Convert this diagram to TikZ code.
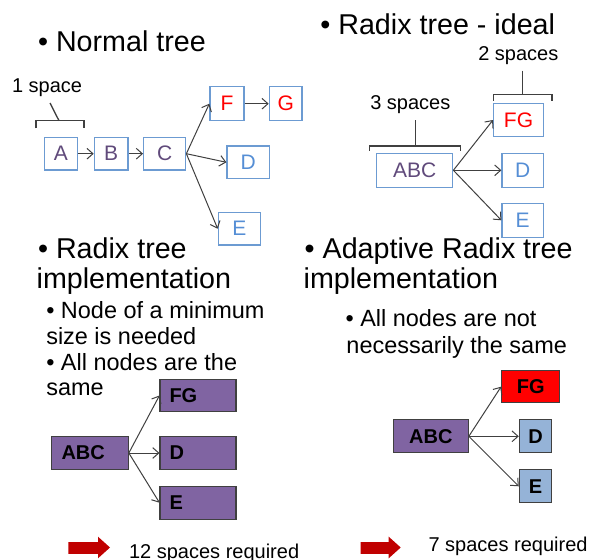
\documentclass[tikz,border=0pt]{standalone}
\usepackage{fontspec}
\setmainfont{Liberation Sans}
\usetikzlibrary{arrows.meta}
\definecolor{boxblue}{RGB}{108,155,210}
\definecolor{keypurple}{RGB}{96,74,123}
\definecolor{keyblue}{RGB}{85,142,213}
\definecolor{purplefill}{RGB}{128,100,162}
\definecolor{lightfill}{RGB}{149,179,215}
\definecolor{darkred}{RGB}{192,0,0}
\definecolor{edgegray}{RGB}{64,64,64}
\begin{document}
\begin{tikzpicture}[x=0.75pt,y=-0.75pt,
  head/.style={anchor=base west, inner sep=0pt, font=\fontsize{21.5}{25}\selectfont},
  sub/.style={anchor=base west, inner sep=0pt, font=\fontsize{17.6}{20}\selectfont},
  lab/.style={anchor=base west, inner sep=0pt, font=\fontsize{15}{18}\selectfont},
  sz/.style 2 args={minimum width={#1*0.75pt}, minimum height={#2*0.75pt}},
  tbox/.style={draw=boxblue, line width=1pt, inner sep=0pt, font=\fontsize{15.75}{18}\selectfont},
  pbox/.style={draw=edgegray, fill=purplefill, line width=0.8pt, inner sep=0pt,
               font=\bfseries\fontsize{15}{18}\selectfont},
  lbox/.style={pbox, align=left, inner xsep=7.1pt, text width=42.75pt},
  link/.style={draw=edgegray, line width=0.75pt, -{Straight Barb[length=4.5pt,width=8pt]}},
  brace/.style={draw=edgegray, line width=1pt},
  bigarrow/.style={fill=darkred}]
\useasboundingbox (0,0) rectangle (596,560);

% headings
\node[head] (h1) at (37.8,51.7) {• Normal tree};
\node[head] (h2) at (320.1,35) {• Radix tree - ideal};
\node[head] (h3a) at (37.8,258.3) {• Radix tree};
\node[head] (h3b) at (36.4,288.3) {implementation};
\node[head] (h4a) at (304.4,258.3) {•\ \makebox[187.5pt][s]{Adaptive Radix tree}};
\node[head] (h4b) at (303.4,288.3) {implementation};

% sub-points
\node[sub] (s1) at (46,318.3) {• Node of a minimum};
\node[sub] (s2) at (46,344.3) {size is needed};
\node[sub] (s3) at (46,370) {• All nodes are the};
\node[sub] (s4) at (46,395) {same};
\node[sub] (s5) at (345.3,326.7) {• All nodes are not};
\node[sub] (s6) at (346.2,353.3) {necessarily the same};

% size labels
\node[lab] (l1) at (11.8,92.7) {1 space};
\node[lab] (l3) at (370,109.3) {3 spaces};
\node[lab] (l2) at (478,60.3) {2 spaces};
\draw[brace] (36,128.3) -- (36,120.7) -- (84,120.7) -- (84,128.3);
\draw[brace] (50,103) -- (59,120.7);
\draw[brace] (369.3,150.5) -- (369.3,146) -- (460.7,146) -- (460.7,150.5);
\draw[brace] (415.3,120) -- (415.3,146);
\draw[brace] (493.3,100.7) -- (493.3,94.3) -- (552,94.3) -- (552,100.7);
\draw[brace] (522.7,70.7) -- (522.7,94.3);

% normal tree
\node[tbox, sz={33}{32.7}, text=keypurple] (A) at (60.8,153.7) {A};
\node[tbox, sz={33.7}{32.7}, text=keypurple] (B) at (111.2,153.7) {B};
\node[tbox, sz={42}{32.7}, text=keypurple] (C) at (164.7,153.7) {C};
\node[tbox, sz={34}{34}, text=red] (F) at (227,103.7) {F};
\node[tbox, sz={32.7}{34}, text=red] (G) at (285.7,103.7) {G};
\node[tbox, sz={42.3}{32.7}, text=keyblue] (D) at (248.2,162.3) {D};
\node[tbox, sz={42.3}{32.7}, text=keyblue] (E) at (239.5,228.7) {E};
\draw[link] (A.east) -- (B.west);
\draw[link] (B.east) -- (C.west);
\draw[link] (C.east) -- (F.west);
\draw[link] (C.east) -- (D.west);
\draw[link] (C.east) -- (E.west);
\draw[link] (F.east) -- (G.west);

% ideal radix tree
\node[tbox, sz={76}{34}, text=keypurple] (iABC) at (414.7,170.3) {ABC};
\node[tbox, sz={49.6}{33.4}, text=red] (iFG) at (518.5,120) {FG};
\node[tbox, sz={41.3}{34}, text=keyblue] (iD) at (522.7,170.3) {D};
\node[tbox, sz={41.3}{34}, text=keyblue] (iE) at (522.7,220.3) {E};
\draw[link] (iABC.east) -- (iFG.west);
\draw[link] (iABC.east) -- (iD.west);
\draw[link] (iABC.east) -- (iE.west);

% radix tree implementation: equal nodes
\node[lbox, sz={76.6}{32.6}] (rABC) at (90,453) {ABC};
\node[lbox, sz={76}{32.4}] (rFG) at (198,395.5) {FG};
\node[lbox, sz={76}{32.6}] (rD) at (198,453) {D};
\node[lbox, sz={76}{33.3}] (rE) at (198,502.7) {E};
\draw[link] (rABC.east) -- (rFG.west);
\draw[link] (rABC.east) -- (rD.west);
\draw[link] (rABC.east) -- (rE.west);

% adaptive radix tree implementation
\node[pbox, sz={75}{32.7}] (aABC) at (430.8,436.3) {ABC};
\node[pbox, sz={58.3}{32}, fill=red] (aFG) at (530.8,386.7) {FG};
\node[pbox, sz={32.4}{32.7}, fill=lightfill] (aD) at (535.5,436.3) {D};
\node[pbox, sz={32.4}{32.7}, fill=lightfill] (aE) at (535.5,486.3) {E};
\draw[link] (aABC.east) -- (aFG.west);
\draw[link] (aABC.east) -- (aD.west);
\draw[link] (aABC.east) -- (aE.west);

% totals
\fill[bigarrow] (68.3,542.2) -- (98,542.2) -- (98,536.7) -- (110,547.5)
  -- (98,558.3) -- (98,553.8) -- (68.3,553.8) -- cycle;
\fill[bigarrow] (360.7,542.2) -- (388.7,542.2) -- (388.7,536.7) -- (400.7,547.5)
  -- (388.7,558.3) -- (388.7,553.8) -- (360.7,553.8) -- cycle;
\node[lab] (t1) at (128.8,558.5) {12 spaces required};
\node[lab] (t2) at (428.3,551) {7 spaces required};
\end{tikzpicture}
\end{document}
